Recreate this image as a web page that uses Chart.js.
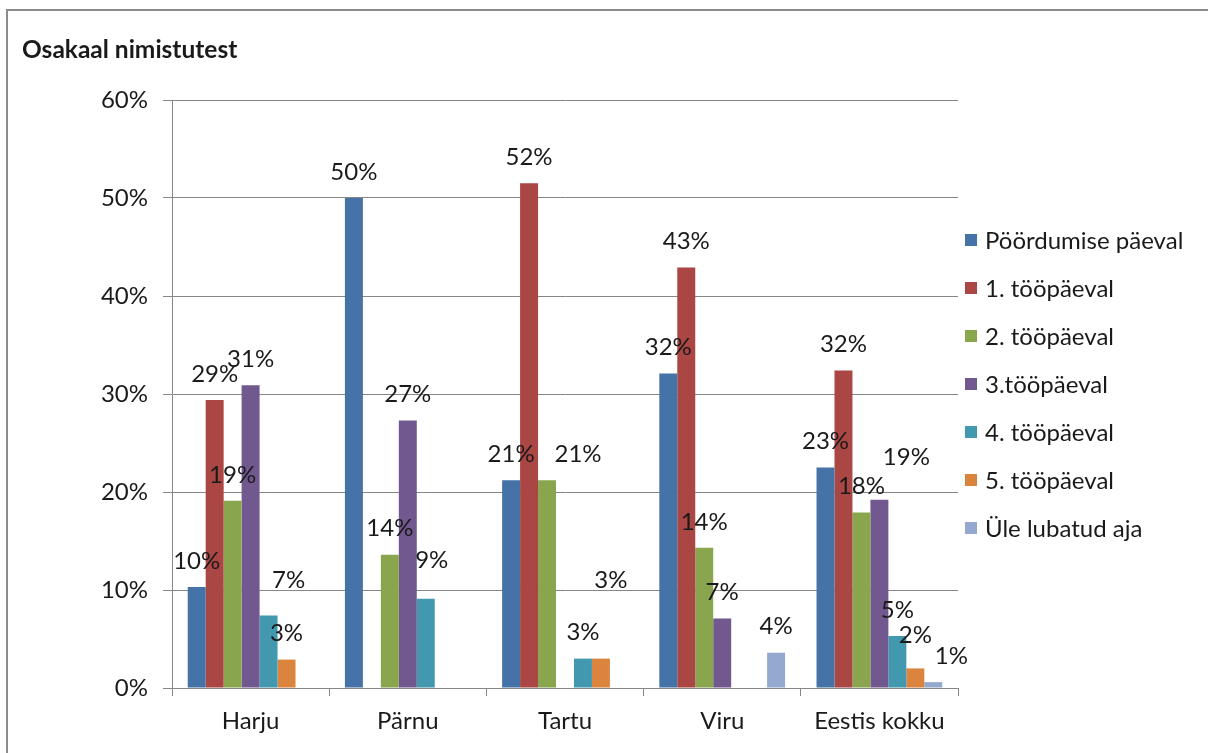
<!DOCTYPE html>
<html><head><meta charset="utf-8">
<script src="https://cdn.jsdelivr.net/npm/chart.js@4/dist/chart.umd.min.js"></script>
<style>html,body{margin:0;padding:0;background:#fff;overflow:hidden}#wrap{width:1208px;height:753px;position:relative}</style>
</head><body><div id="wrap"><canvas id="c" width="1208" height="753"></canvas></div>
<script>
const categories = ['Harju', 'Pärnu', 'Tartu', 'Viru', 'Eestis kokku'];
const seriesNames = ['Pöördumise päeval', '1. tööpäeval', '2. tööpäeval', '3.tööpäeval', '4. tööpäeval', '5. tööpäeval', 'Üle lubatud aja'];
const poordumisePaeval = [10.3, 50.0, 21.2, 32.1, 22.5];
const tooPaev1 = [29.4, null, 51.5, 42.9, 32.4];
const tooPaev2 = [19.1, 13.6, 21.2, 14.3, 17.9];
const tooPaev3 = [30.9, 27.3, null, 7.1, 19.2];
const tooPaev4 = [7.4, 9.1, 3.0, null, 5.3];
const tooPaev5 = [2.9, null, 3.0, null, 2.0];
const uleLubatudAja = [null, null, null, 3.6, 0.6];
const yTickValues = [0, 10, 20, 30, 40, 50, 60];
const titleText = 'Osakaal nimistutest';

const colors = ['#4572A7', '#AA4643', '#89A54E', '#71588F', '#4198AF', '#DB843D', '#93A9CF'];
const seriesValues = [poordumisePaeval, tooPaev1, tooPaev2, tooPaev3, tooPaev4, tooPaev5, uleLubatudAja];
const FONT = 'Lato';
const TXT = '#1a1a1a';
const GRID = '#868686';
// manual data-label nudges (series index, category index) as in the original chart
const labelNudges = { '4,0': [20, -9], '4,1': [6, -13], '2,2': [31, 0], '5,2': [10, -52], '3,4': [27, -17], '5,4': [0, -7], '6,4': [18, 0] };

const frameAndTitle = {
  id: 'frameAndTitle',
  afterDraw(chart) {
    const ctx = chart.ctx;
    ctx.save();
    ctx.strokeStyle = '#8c8c8c';
    ctx.lineWidth = 2;
    ctx.strokeRect(7, 10, 1400, 900);
    ctx.fillStyle = TXT;
    ctx.font = 'bold 24.5px ' + FONT;
    ctx.textAlign = 'left';
    ctx.textBaseline = 'middle';
    ctx.fillText(titleText, 22, 50);
    ctx.font = '24px ' + FONT;
    chart.data.datasets.forEach((ds, i) => {
      const y = 240 + 48 * i;
      ctx.fillStyle = ds.backgroundColor;
      ctx.fillRect(965, y - 6, 12, 12);
      ctx.fillStyle = TXT;
      ctx.fillText(ds.label, 985, y + 1);
    });
    ctx.restore();
  }
};

const valueLabels = {
  id: 'valueLabels',
  afterDatasetsDraw(chart) {
    const ctx = chart.ctx;
    ctx.save();
    ctx.font = '24px ' + FONT;
    ctx.fillStyle = TXT;
    ctx.textAlign = 'center';
    ctx.textBaseline = 'middle';
    chart.data.datasets.forEach((ds, di) => {
      const meta = chart.getDatasetMeta(di);
      meta.data.forEach((el, i) => {
        const v = ds.data[i];
        if (v === null || v === undefined) return;
        const n = labelNudges[di + ',' + i] || [0, 0];
        ctx.fillText(Math.round(v) + '%', el.x + n[0], el.y - 26 + n[1]);
      });
    });
    ctx.restore();
  }
};

new Chart(document.getElementById('c'), {
  type: 'bar',
  data: {
    labels: categories,
    datasets: seriesNames.map((name, i) => ({
      label: name,
      data: seriesValues[i],
      backgroundColor: colors[i],
      borderWidth: 0,
      categoryPercentage: 0.8,
      barPercentage: 1.0
    }))
  },
  options: {
    responsive: false,
    animation: false,
    devicePixelRatio: 1,
    layout: { padding: { left: 0, right: 250, top: 100, bottom: 0 } },
    plugins: { legend: { display: false }, title: { display: false }, tooltip: { enabled: false } },
    scales: {
      x: {
        afterFit(s) { s.height = 65; },
        grid: { display: true, drawOnChartArea: false, drawTicks: true, tickLength: 8, color: GRID, offset: true },
        border: { display: true, color: GRID, width: 1 },
        ticks: { color: TXT, font: { family: FONT, size: 24 }, padding: 11, maxRotation: 0 }
      },
      y: {
        min: 0, max: 60,
        afterFit(s) { s.width = 172; },
        afterBuildTicks(s) { s.ticks = yTickValues.map(v => ({ value: v })); },
        grid: { color: GRID, drawTicks: true, tickLength: 9 },
        border: { display: true, color: GRID, width: 1 },
        ticks: { color: TXT, font: { family: FONT, size: 24 }, padding: 15, callback: v => v + '%' }
      }
    }
  },
  plugins: [frameAndTitle, valueLabels]
});
</script></body></html>
